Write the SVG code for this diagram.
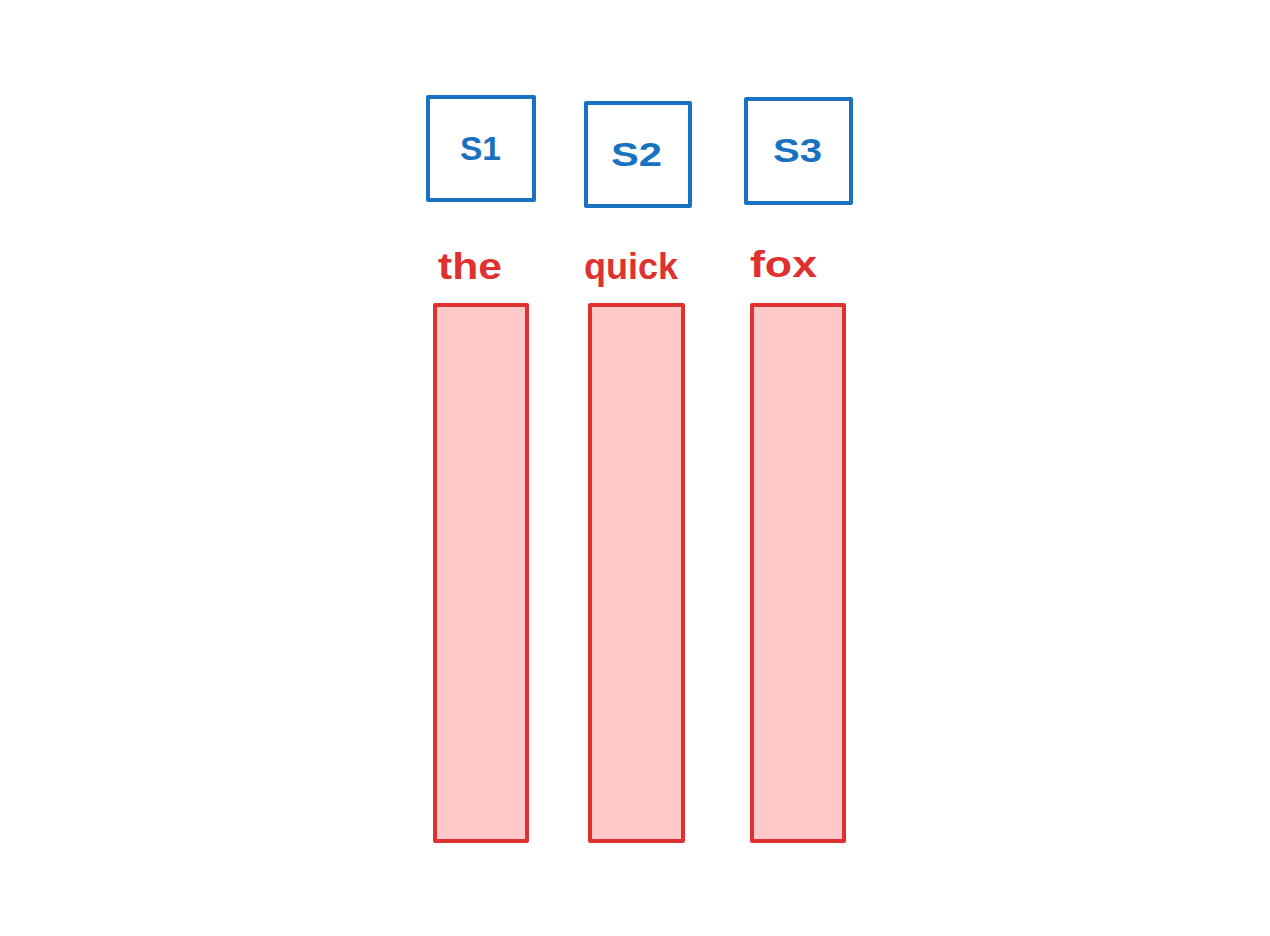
<svg xmlns="http://www.w3.org/2000/svg" width="1270" height="936" viewBox="0 0 1270 936">
<style>
.box{fill:none;stroke:#1971c2;stroke-width:4;stroke-linejoin:round}
.bar{fill:#ffc9c9;stroke:#e03131;stroke-width:4;stroke-linejoin:round}
.bl{font-family:"Liberation Sans",sans-serif;font-size:34px;font-weight:bold;fill:#1971c2}
.rl{font-family:"Liberation Sans",sans-serif;font-size:36px;font-weight:bold;fill:#e03131}
</style>
<rect width="1270" height="936" fill="#ffffff"/>
<g id="s1"><rect class="box" x="428" y="97" width="106" height="103"/><text class="bl" x="460" y="160" textLength="41" lengthAdjust="spacingAndGlyphs">S1</text></g>
<g id="s2"><rect class="box" x="586" y="103" width="104" height="103"/><text class="bl" x="611" y="166" textLength="51" lengthAdjust="spacingAndGlyphs">S2</text></g>
<g id="s3"><rect class="box" x="746" y="99" width="105" height="104"/><text class="bl" x="773" y="162" textLength="49" lengthAdjust="spacingAndGlyphs">S3</text></g>
<g id="bar-the"><text class="rl" x="438" y="279" textLength="64" lengthAdjust="spacingAndGlyphs">the</text><rect class="bar" x="435" y="305" width="92" height="536"/></g>
<g id="bar-quick"><text class="rl" x="584" y="279" textLength="94" lengthAdjust="spacingAndGlyphs">quick</text><rect class="bar" x="590" y="305" width="93" height="536"/></g>
<g id="bar-fox"><text class="rl" x="750" y="277" textLength="67" lengthAdjust="spacingAndGlyphs">fox</text><rect class="bar" x="752" y="305" width="92" height="536"/></g>
<g id="connectors"></g>
</svg>
